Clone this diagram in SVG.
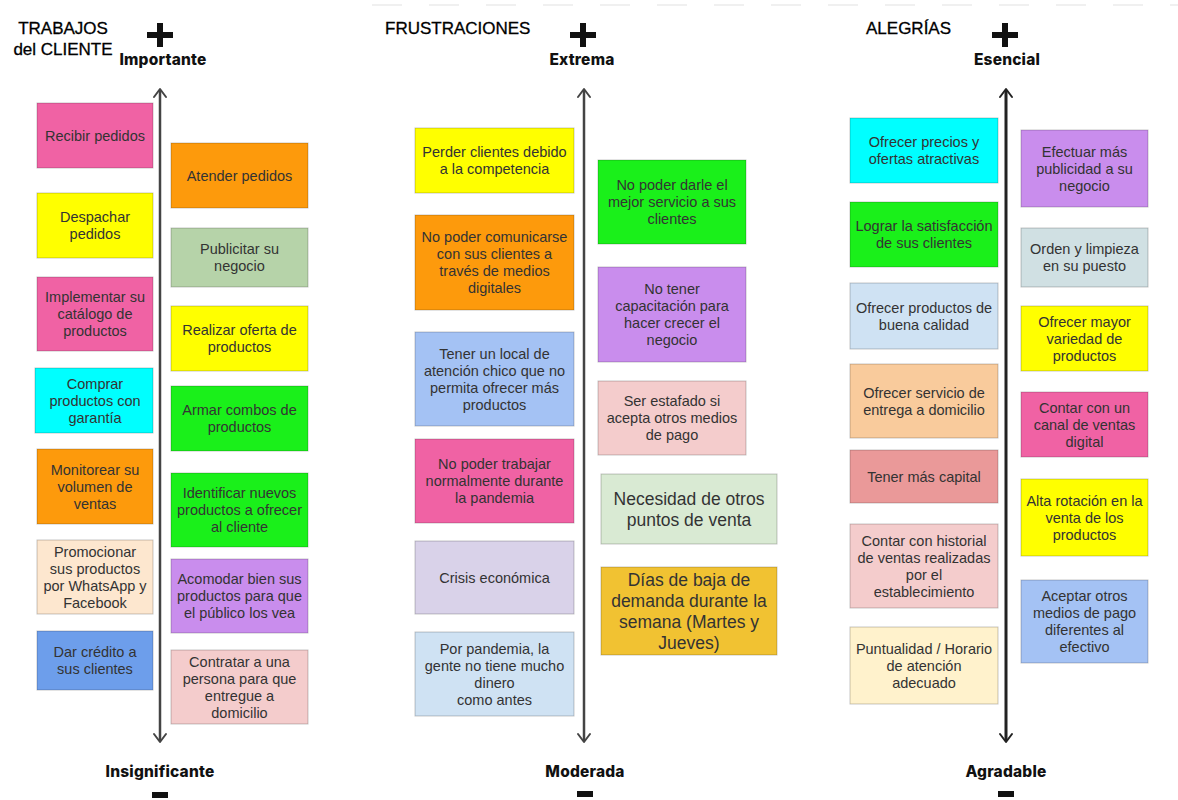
<svg xmlns="http://www.w3.org/2000/svg" width="1178" height="800" viewBox="0 0 1178 800">
  <style>
    .box { stroke: rgba(0,0,0,0.22); stroke-width: 1; }
    .t { font-family: "Liberation Sans", Arial, sans-serif; font-size: 14.5px; fill: #333; text-anchor: middle; }
    .tl { font-family: "Liberation Sans", Arial, sans-serif; font-size: 17.5px; fill: #333; text-anchor: middle; }
    .title { font-family: "Liberation Sans", Arial, sans-serif; font-size: 17px; fill: #000; stroke: #000; stroke-width: 0.3; }
    .scale { font-family: Inter, "DejaVu Sans", sans-serif; font-size: 15.5px; font-weight: 800; letter-spacing: 0.2px; fill: #111; text-anchor: middle; }
    .axis { stroke: #444; stroke-width: 2.5; fill: none; }
    .head { stroke: #444; stroke-width: 2; fill: none; stroke-linecap: round; stroke-linejoin: round; }
    .sign { fill: #111; }
    .pink { fill: #f062a4; }
    .orange { fill: #fd9a0c; }
    .yellow { fill: #ffff00; }
    .sage { fill: #b6d3a9; }
    .cyan { fill: #00ffff; }
    .green { fill: #1af01a; }
    .peach { fill: #fde7cf; }
    .purple { fill: #c98ded; }
    .blue { fill: #6d9eeb; }
    .rose { fill: #f4cccc; }
    .lblue { fill: #a4c2f4; }
    .mint { fill: #d9ead3; }
    .lilac { fill: #d9d2e9; }
    .gold { fill: #f1c232; }
    .sky { fill: #cfe2f3; }
    .grey { fill: #d0e0e3; }
    .apricot { fill: #f9cb9c; }
    .coral { fill: #ea9999; }
    .cream { fill: #fff2cc; }
  </style>

  <rect width="1178" height="800" fill="#ffffff"/>
  <line x1="372" y1="5" x2="1178" y2="5" stroke="#ececec" stroke-width="1.5" stroke-dasharray="30 27"/>

  <!-- headers and scale labels -->
  <g id="headers">
    <text class="title" x="63" y="34" text-anchor="middle">TRABAJOS</text>
    <text class="title" x="63" y="55" text-anchor="middle">del CLIENTE</text>
    <text class="title" x="385" y="34">FRUSTRACIONES</text>
    <text class="title" x="866" y="34">ALEGRÍAS</text>

    <rect class="sign" x="147" y="32" width="26" height="6"/>
    <rect class="sign" x="157" y="23" width="6" height="24"/>
    <rect class="sign" x="570" y="32" width="26" height="6"/>
    <rect class="sign" x="580" y="23" width="6" height="24"/>
    <rect class="sign" x="992" y="32" width="26" height="6"/>
    <rect class="sign" x="1002" y="23" width="6" height="24"/>

    <text class="scale" x="163" y="65">Importante</text>
    <text class="scale" x="582" y="65">Extrema</text>
    <text class="scale" x="1007" y="65">Esencial</text>

    <text class="scale" x="160" y="777">Insignificante</text>
    <text class="scale" x="585" y="777">Moderada</text>
    <text class="scale" x="1006" y="777">Agradable</text>

    <rect class="sign" x="152" y="792" width="16" height="6"/>
    <rect class="sign" x="577" y="791" width="16" height="6"/>
    <rect class="sign" x="998" y="791" width="16" height="6"/>
  </g>

  <!-- vertical scale axes -->
  <g id="connectors">
    <line class="axis" x1="160" y1="90" x2="160" y2="741"/>
    <polyline class="head" points="154,97 160,89 166,97"/>
    <polyline class="head" points="154,734 160,742 166,734"/>

    <line class="axis" x1="584" y1="90" x2="584" y2="741"/>
    <polyline class="head" points="578,97 584,89 590,97"/>
    <polyline class="head" points="578,734 584,742 590,734"/>

    <line class="axis" x1="1006" y1="90" x2="1006" y2="741" style="stroke:#222;stroke-width:3"/>
    <polyline class="head" points="1000,97 1006,89 1012,97" style="stroke:#222"/>
    <polyline class="head" points="1000,734 1006,742 1012,734" style="stroke:#222"/>
  </g>

  <!-- TRABAJOS del CLIENTE -->
  <g id="recibir-pedidos"><rect class="box pink" x="37" y="103" width="116" height="65"/>
    <text class="t" x="95" y="140.5">Recibir pedidos</text></g>
  <g id="atender-pedidos"><rect class="box orange" x="171" y="143" width="137" height="65"/>
    <text class="t" x="239.5" y="180.5">Atender pedidos</text></g>
  <g id="despachar-pedidos"><rect class="box yellow" x="37" y="193" width="116" height="65"/>
    <text class="t" x="95" y="222"><tspan x="95">Despachar</tspan><tspan x="95" dy="17">pedidos</tspan></text></g>
  <g id="publicitar-negocio"><rect class="box sage" x="171" y="228" width="137" height="59"/>
    <text class="t" x="239.5" y="254"><tspan x="239.5">Publicitar su</tspan><tspan x="239.5" dy="17">negocio</tspan></text></g>
  <g id="implementar-catalogo"><rect class="box pink" x="37" y="277" width="116" height="74"/>
    <text class="t" x="95" y="302"><tspan x="95">Implementar su</tspan><tspan x="95" dy="17">catálogo de</tspan><tspan x="95" dy="17">productos</tspan></text></g>
  <g id="realizar-oferta"><rect class="box yellow" x="171" y="306" width="137" height="65"/>
    <text class="t" x="239.5" y="335"><tspan x="239.5">Realizar oferta de</tspan><tspan x="239.5" dy="17">productos</tspan></text></g>
  <g id="comprar-productos"><rect class="box cyan" x="35" y="368" width="118" height="65"/>
    <text class="t" x="95" y="388.5"><tspan x="95">Comprar</tspan><tspan x="95" dy="17">productos con</tspan><tspan x="95" dy="17">garantía</tspan></text></g>
  <g id="armar-combos"><rect class="box green" x="171" y="386" width="137" height="65"/>
    <text class="t" x="239.5" y="415"><tspan x="239.5">Armar combos de</tspan><tspan x="239.5" dy="17">productos</tspan></text></g>
  <g id="monitorear-ventas"><rect class="box orange" x="37" y="449" width="116" height="75"/>
    <text class="t" x="95" y="474.5"><tspan x="95">Monitorear su</tspan><tspan x="95" dy="17">volumen de</tspan><tspan x="95" dy="17">ventas</tspan></text></g>
  <g id="identificar-productos"><rect class="box green" x="171" y="473" width="137" height="74"/>
    <text class="t" x="239.5" y="498"><tspan x="239.5">Identificar nuevos</tspan><tspan x="239.5" dy="17">productos a ofrecer</tspan><tspan x="239.5" dy="17">al cliente</tspan></text></g>
  <g id="promocionar-productos"><rect class="box peach" x="37" y="540" width="116" height="74"/>
    <text class="t" x="95" y="556.5"><tspan x="95">Promocionar</tspan><tspan x="95" dy="17">sus productos</tspan><tspan x="95" dy="17">por WhatsApp y</tspan><tspan x="95" dy="17">Facebook</tspan></text></g>
  <g id="acomodar-productos"><rect class="box purple" x="171" y="559" width="137" height="74"/>
    <text class="t" x="239.5" y="584"><tspan x="239.5">Acomodar bien sus</tspan><tspan x="239.5" dy="17">productos para que</tspan><tspan x="239.5" dy="17">el público los vea</tspan></text></g>
  <g id="dar-credito"><rect class="box blue" x="37" y="631" width="116" height="59"/>
    <text class="t" x="95" y="657"><tspan x="95">Dar crédito a</tspan><tspan x="95" dy="17">sus clientes</tspan></text></g>
  <g id="contratar-persona"><rect class="box rose" x="171" y="650" width="137" height="74"/>
    <text class="t" x="239.5" y="666.5"><tspan x="239.5">Contratar a una</tspan><tspan x="239.5" dy="17">persona para que</tspan><tspan x="239.5" dy="17">entregue a</tspan><tspan x="239.5" dy="17">domicilio</tspan></text></g>

  <!-- FRUSTRACIONES -->
  <g id="perder-clientes"><rect class="box yellow" x="415" y="128" width="159" height="65"/>
    <text class="t" x="494.5" y="157"><tspan x="494.5">Perder clientes debido</tspan><tspan x="494.5" dy="17">a la competencia</tspan></text></g>
  <g id="mejor-servicio"><rect class="box green" x="598" y="160" width="148" height="84"/>
    <text class="t" x="672" y="190"><tspan x="672">No poder darle el</tspan><tspan x="672" dy="17">mejor servicio a sus</tspan><tspan x="672" dy="17">clientes</tspan></text></g>
  <g id="medios-digitales"><rect class="box orange" x="415" y="215" width="159" height="95"/>
    <text class="t" x="494.5" y="242"><tspan x="494.5">No poder comunicarse</tspan><tspan x="494.5" dy="17">con sus clientes a</tspan><tspan x="494.5" dy="17">través de medios</tspan><tspan x="494.5" dy="17">digitales</tspan></text></g>
  <g id="capacitacion"><rect class="box purple" x="598" y="267" width="148" height="95"/>
    <text class="t" x="672" y="294"><tspan x="672">No tener</tspan><tspan x="672" dy="17">capacitación para</tspan><tspan x="672" dy="17">hacer crecer el</tspan><tspan x="672" dy="17">negocio</tspan></text></g>
  <g id="local-chico"><rect class="box lblue" x="415" y="332" width="159" height="94"/>
    <text class="t" x="494.5" y="358.5"><tspan x="494.5">Tener un local de</tspan><tspan x="494.5" dy="17">atención chico que no</tspan><tspan x="494.5" dy="17">permita ofrecer más</tspan><tspan x="494.5" dy="17">productos</tspan></text></g>
  <g id="ser-estafado"><rect class="box rose" x="598" y="381" width="148" height="74"/>
    <text class="t" x="672" y="406"><tspan x="672">Ser estafado si</tspan><tspan x="672" dy="17">acepta otros medios</tspan><tspan x="672" dy="17">de pago</tspan></text></g>
  <g id="trabajar-pandemia"><rect class="box pink" x="415" y="439" width="159" height="84"/>
    <text class="t" x="494.5" y="469"><tspan x="494.5">No poder trabajar</tspan><tspan x="494.5" dy="17">normalmente durante</tspan><tspan x="494.5" dy="17">la pandemia</tspan></text></g>
  <g id="puntos-venta"><rect class="box mint" x="601" y="474" width="176" height="70"/>
    <text class="tl" x="689" y="504.5"><tspan x="689">Necesidad de otros</tspan><tspan x="689" dy="21">puntos de venta</tspan></text></g>
  <g id="crisis-economica"><rect class="box lilac" x="415" y="541" width="159" height="73"/>
    <text class="t" x="494.5" y="582.5">Crisis económica</text></g>
  <g id="baja-demanda"><rect class="box gold" x="601" y="567" width="176" height="88"/>
    <text class="tl" x="689" y="585.5"><tspan x="689">Días de baja de</tspan><tspan x="689" dy="21">demanda durante la</tspan><tspan x="689" dy="21">semana (Martes y</tspan><tspan x="689" dy="21">Jueves)</tspan></text></g>
  <g id="poco-dinero"><rect class="box sky" x="415" y="632" width="159" height="84"/>
    <text class="t" x="494.5" y="653.5"><tspan x="494.5">Por pandemia, la</tspan><tspan x="494.5" dy="17">gente no tiene mucho</tspan><tspan x="494.5" dy="17">dinero</tspan><tspan x="494.5" dy="17">como antes</tspan></text></g>

  <!-- ALEGRÍAS -->
  <g id="precios-ofertas"><rect class="box cyan" x="850" y="118" width="148" height="65"/>
    <text class="t" x="924" y="147"><tspan x="924">Ofrecer precios y</tspan><tspan x="924" dy="17">ofertas atractivas</tspan></text></g>
  <g id="mas-publicidad"><rect class="box purple" x="1021" y="130" width="127" height="77"/>
    <text class="t" x="1084.5" y="156.5"><tspan x="1084.5">Efectuar más</tspan><tspan x="1084.5" dy="17">publicidad a su</tspan><tspan x="1084.5" dy="17">negocio</tspan></text></g>
  <g id="satisfaccion"><rect class="box green" x="850" y="202" width="148" height="65"/>
    <text class="t" x="924" y="231"><tspan x="924">Lograr la satisfacción</tspan><tspan x="924" dy="17">de sus clientes</tspan></text></g>
  <g id="orden-limpieza"><rect class="box grey" x="1021" y="228" width="127" height="59"/>
    <text class="t" x="1084.5" y="254"><tspan x="1084.5">Orden y limpieza</tspan><tspan x="1084.5" dy="17">en su puesto</tspan></text></g>
  <g id="buena-calidad"><rect class="box sky" x="850" y="283" width="148" height="66"/>
    <text class="t" x="924" y="312.5"><tspan x="924">Ofrecer productos de</tspan><tspan x="924" dy="17">buena calidad</tspan></text></g>
  <g id="mayor-variedad"><rect class="box yellow" x="1021" y="306" width="127" height="65"/>
    <text class="t" x="1084.5" y="326.5"><tspan x="1084.5">Ofrecer mayor</tspan><tspan x="1084.5" dy="17">variedad de</tspan><tspan x="1084.5" dy="17">productos</tspan></text></g>
  <g id="entrega-domicilio"><rect class="box apricot" x="850" y="364" width="148" height="74"/>
    <text class="t" x="924" y="397.5"><tspan x="924">Ofrecer servicio de</tspan><tspan x="924" dy="17">entrega a domicilio</tspan></text></g>
  <g id="canal-digital"><rect class="box pink" x="1021" y="392" width="127" height="65"/>
    <text class="t" x="1084.5" y="412.5"><tspan x="1084.5">Contar con un</tspan><tspan x="1084.5" dy="17">canal de ventas</tspan><tspan x="1084.5" dy="17">digital</tspan></text></g>
  <g id="mas-capital"><rect class="box coral" x="850" y="450" width="148" height="53"/>
    <text class="t" x="924" y="481.5">Tener más capital</text></g>
  <g id="alta-rotacion"><rect class="box yellow" x="1021" y="479" width="127" height="77"/>
    <text class="t" x="1084.5" y="505.5"><tspan x="1084.5">Alta rotación en la</tspan><tspan x="1084.5" dy="17">venta de los</tspan><tspan x="1084.5" dy="17">productos</tspan></text></g>
  <g id="historial-ventas"><rect class="box rose" x="850" y="524" width="148" height="84"/>
    <text class="t" x="924" y="545.5"><tspan x="924">Contar con historial</tspan><tspan x="924" dy="17">de ventas realizadas</tspan><tspan x="924" dy="17">por el</tspan><tspan x="924" dy="17">establecimiento</tspan></text></g>
  <g id="otros-medios-pago"><rect class="box lblue" x="1021" y="580" width="127" height="83"/>
    <text class="t" x="1084.5" y="601"><tspan x="1084.5">Aceptar otros</tspan><tspan x="1084.5" dy="17">medios de pago</tspan><tspan x="1084.5" dy="17">diferentes al</tspan><tspan x="1084.5" dy="17">efectivo</tspan></text></g>
  <g id="puntualidad"><rect class="box cream" x="850" y="627" width="148" height="77"/>
    <text class="t" x="924" y="653.5"><tspan x="924">Puntualidad / Horario</tspan><tspan x="924" dy="17">de atención</tspan><tspan x="924" dy="17">adecuado</tspan></text></g>
</svg>
